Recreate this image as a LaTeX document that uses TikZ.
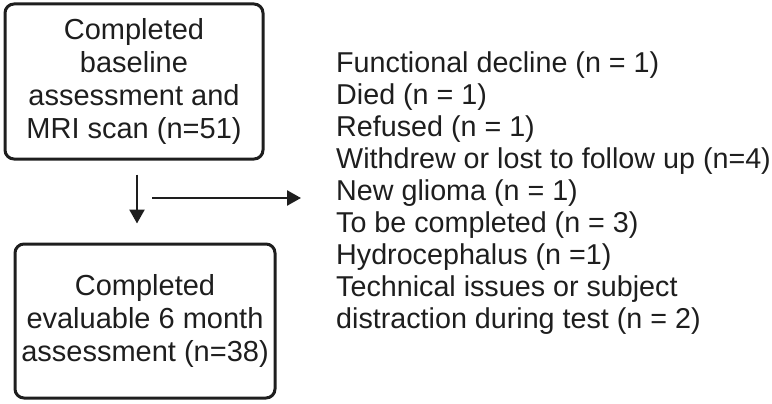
\documentclass[tikz,border=0pt]{standalone}
\usepackage{fontspec}
\setmainfont{Liberation Sans}
\usetikzlibrary{arrows.meta,calc,positioning}
\definecolor{ink}{HTML}{1E1E1E}
\begin{document}
\begin{tikzpicture}[x=1pt,y=-1pt,font=\fontsize{29}{33}\selectfont,
  box/.style={draw=ink,text=ink,line width=3pt,rounded corners=9pt,align=center,inner sep=0pt},
  flow/.style={draw=ink,line width=2.5pt,-{Triangle[width=15pt,length=14pt]}}]

  \useasboundingbox (0,0) rectangle (772,404);%the page
  \node[box,minimum width=258pt,minimum height=155pt](base) at (134,81.5) {Completed\\baseline\\assessment and\\MRI scan (n=51)};%first box
  \node[box,minimum width=260pt,minimum height=154pt](eval) at (145,321) {Completed\\evaluable 6 month\\assessment (n=38)};%second box
  \node[text=ink,align=left,anchor=west,inner sep=0pt,font=\fontsize{28.7}{32}\selectfont](reasons) at (336,193) {Functional decline (n = 1)\\Died (n = 1)\\Refused (n = 1)\\Withdrew or lost to follow up (n=4)\\New glioma (n = 1)\\To be completed (n = 3)\\Hydrocephalus (n =1)\\Technical issues or subject\\distraction during test (n = 2)};%the list of reasons
  \coordinate(split) at (152,198);%start of the side arrow
  \draw[flow,shorten <=14pt,shorten >=19pt] ([xshift=3pt]base.south) -- ([xshift=3pt]base.south |- eval.north);%down arrow
  \draw[flow,shorten >=35pt] (split) -- (split -| reasons.west);%side arrow
\end{tikzpicture}
\end{document}
